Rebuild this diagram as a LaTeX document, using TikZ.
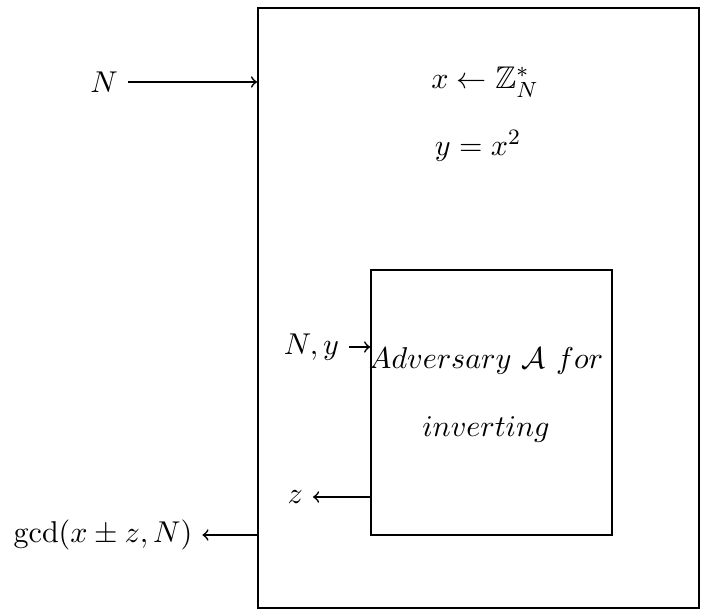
\documentclass[tikz,border=0pt]{standalone}
\usepackage{amsmath,amssymb}
\usetikzlibrary{positioning,calc}

\begin{document}
\begin{tikzpicture}[x=0.3636pt,y=-0.3636pt,>=to,line width=0.6pt,
  every node/.style={font=\fontsize{11.4}{14}\selectfont},
  box/.style={draw,inner sep=0pt}]
\useasboundingbox (0,0) rectangle (701,612);
% reduction and adversary
\node[box,minimum width=160.4pt,minimum height=218.2pt] (game) at (478.5,308) {};
\node[box,minimum width=87.6pt,minimum height=96.4pt] (adv) at (491.5,402.5) {};
\node[align=center] (advtext) at (486,395) {$Adversary~\mathcal{A}~for$\\[11pt]$inverting$};
% inside the reduction
\node (pick) at (485,82) {$x \leftarrow \mathbb{Z}_N^*$};
\node (sq) at (478,146) {$y = x^2$};
% inputs and outputs
\node (n) at (104,82) {$N$};
\node (gcd) at (103,535) {$\gcd(x \pm z, N)$};
\node[anchor=east] (nyin) at (349,347) {$N, y$};
\node[anchor=east] (zout) at (313,497) {$z$};
\draw[->] (n) -- (n-|game.west);
\draw[->] (gcd-|game.west) -- (gcd);
\draw[->] (nyin) -- (nyin-|adv.west);
\draw[->] (zout-|adv.west) -- (zout);
\end{tikzpicture}
\end{document}
